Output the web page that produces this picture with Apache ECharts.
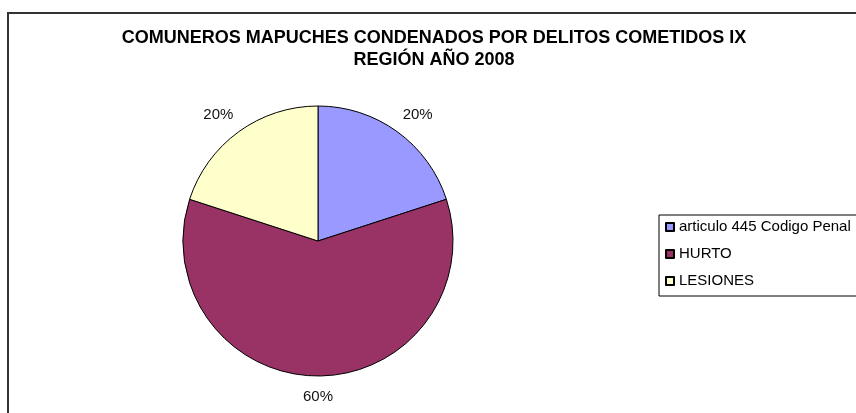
<!DOCTYPE html>
<html>
<head>
<meta charset="utf-8">
<script src="https://cdn.jsdelivr.net/npm/echarts@6/dist/echarts.min.js"></script>
<style>
html,body{margin:0;padding:0;background:#fff;}
#chart{width:856px;height:413px;}
</style>
</head>
<body>
<div id="chart"></div>
<script>
var titleLines = ['COMUNEROS MAPUCHES CONDENADOS POR DELITOS COMETIDOS IX', 'REGIÓN AÑO 2008'];
var categories = ['articulo 445 Codigo Penal', 'HURTO', 'LESIONES'];
var values = [20, 60, 20];
var colors = ['#9999FF', '#993366', '#FFFFCC'];

var FONT = "'Liberation Sans', Arial, sans-serif";
var chart = echarts.init(document.getElementById('chart'), null, {renderer: 'canvas'});

var data = categories.map(function (name, i) {
  return {
    name: name,
    value: values[i],
    itemStyle: {color: colors[i]},
    label: {distanceToLabelLine: i === 1 ? 0 : 8}
  };
});

chart.setOption({
  backgroundColor: '#ffffff',
  animation: false,
  graphic: [{
    type: 'rect',
    shape: {x: 8, y: 13, width: 900, height: 460},
    style: {fill: 'none', stroke: '#333333', lineWidth: 2},
    silent: true
  }],
  title: {
    text: titleLines.join('\n'),
    left: 429,
    textAlign: 'center',
    top: 22,
    textStyle: {fontFamily: FONT, fontSize: 18, fontWeight: 'bold', color: '#000', lineHeight: 22}
  },
  legend: {
    orient: 'vertical',
    left: 659,
    top: 215,
    padding: [4.5, 60, 7.5, 6],
    itemWidth: 8,
    itemHeight: 8,
    itemGap: 12,
    icon: 'rect',
    borderColor: '#000',
    borderWidth: 1,
    borderRadius: 0,
    textStyle: {fontFamily: FONT, fontSize: 15, color: '#000', lineHeight: 15},
    data: categories
  },
  series: [{
    type: 'pie',
    center: [318, 241],
    radius: 135,
    startAngle: 90,
    clockwise: true,
    avoidLabelOverlap: false,
    itemStyle: {borderColor: '#000', borderWidth: 1},
    label: {
      show: true,
      position: 'outside',
      formatter: function (p) { return Math.round(p.percent) + '%'; },
      fontFamily: FONT,
      fontSize: 15,
      color: '#111'
    },
    labelLine: {show: false, length: 21, length2: 0},
    labelLayout: {align: 'center'},
    emphasis: {disabled: true},
    data: data
  }]
});
</script>
</body>
</html>
